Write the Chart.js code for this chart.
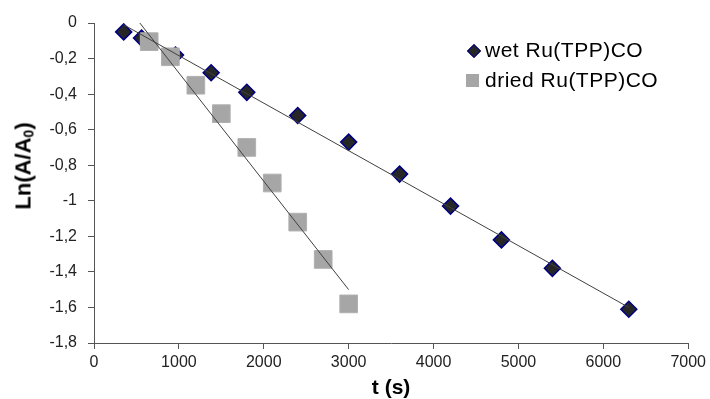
<!DOCTYPE html>
<html>
<head>
<meta charset="utf-8">
<script src="https://cdn.jsdelivr.net/npm/chart.js@4/dist/chart.umd.min.js"></script>
<style>
  html, body { margin: 0; padding: 0; background: #fff; }
  #wrap { position: relative; width: 710px; height: 399px; }
  #legend { position: absolute; left: 465px; top: 35px; font-family: "Liberation Sans", Arial, sans-serif; font-size: 21px; letter-spacing: 0.5px; color: #000; line-height: 30px; }
  .row { position: relative; padding-left: 20px; white-space: nowrap; }
  .dia { position: absolute; left: 3.5px; top: 10.5px; width: 8px; height: 8px; background: #262626; border: 1.2px solid #000080; transform: rotate(45deg); }
  .sq { position: absolute; left: 1px; top: 8.5px; width: 13px; height: 13px; background: #a6a6a6; }
  #ytitle { position: absolute; left: 24px; top: 166px; transform: translate(-50%, -50%) rotate(-90deg); font-family: "Liberation Sans", Arial, sans-serif; font-size: 22px; font-weight: bold; color: #000; white-space: nowrap; line-height: 1; }
  #ytitle sub { font-size: 14px; vertical-align: -3px; }
</style>
</head>
<body>
<div id="wrap">
  <canvas id="c" width="710" height="399"></canvas>
  <div id="ytitle">Ln(A/A<sub>0</sub>)</div>
  <div id="legend">
    <div class="row"><span class="dia"></span>wet Ru(TPP)CO</div>
    <div class="row"><span class="sq"></span>dried Ru(TPP)CO</div>
  </div>
</div>
<script>
// ---- data ----
const wetT  = [350, 560, 960, 1380, 1800, 2400, 3000, 3600, 4200, 4800, 5400, 6300];
const wetLn = [-0.05, -0.085, -0.18, -0.28, -0.39, -0.52, -0.67, -0.85, -1.03, -1.22, -1.38, -1.61];
const driedT  = [650, 900, 1200, 1500, 1800, 2100, 2400, 2700, 3000];
const driedLn = [-0.105, -0.19, -0.35, -0.51, -0.70, -0.90, -1.12, -1.33, -1.58];
const wetFitT  = [350, 6300];
const wetFitLn = [-0.01, -1.60];
const driedFitT  = [540, 3000];
const driedFitLn = [0, -1.50];
const xTicks = [0, 1000, 2000, 3000, 4000, 5000, 6000, 7000];
const yTicks = [0, -0.2, -0.4, -0.6, -0.8, -1, -1.2, -1.4, -1.6, -1.8];
const seriesNames = ['wet Ru(TPP)CO', 'dried Ru(TPP)CO'];

const pts = (xs, ys) => xs.map((x, i) => ({x: x, y: ys[i]}));
const axisColor = '#555';
const tickFont = {family: '"Liberation Sans", Arial, sans-serif', size: 16};

new Chart(document.getElementById('c'), {
  type: 'scatter',
  data: {
    datasets: [
      { label: 'wet fit', data: pts(wetFitT, wetFitLn), showLine: true, borderColor: '#404040', borderWidth: 1, pointRadius: 0, order: 0 },
      { label: 'dried fit', data: pts(driedFitT, driedFitLn), showLine: true, borderColor: '#404040', borderWidth: 1, pointRadius: 0, order: 0 },
      { label: seriesNames[1], data: pts(driedT, driedLn), pointStyle: 'rect', pointRadius: 12.5, backgroundColor: '#a6a6a6', borderColor: '#b0b0b0', borderWidth: 1, order: 1 },
      { label: seriesNames[0], data: pts(wetT, wetLn), pointStyle: 'rectRot', pointRadius: 8, backgroundColor: '#262626', borderColor: '#000080', borderWidth: 1.5, order: 2 }
    ]
  },
  options: {
    responsive: false,
    animation: false,
    events: [],
    layout: { padding: { top: 23, right: 20, left: 0, bottom: 0 } },
    plugins: { legend: { display: false }, tooltip: { enabled: false } },
    scales: {
      x: {
        type: 'linear', min: 0, max: 7000,
        afterBuildTicks: (a) => { a.ticks = xTicks.map(v => ({value: v})); },
        afterFit: (a) => { a.height = 56; },
        ticks: { color: '#222', font: tickFont, padding: 4, maxRotation: 0, callback: (v) => String(v) },
        grid: { display: true, drawOnChartArea: false, drawTicks: true, tickLength: 6, color: axisColor },
        border: { display: true, color: axisColor, width: 1 },
        title: { display: true, text: 't (s)', color: '#000', font: { family: '"Liberation Sans", Arial, sans-serif', size: 21, weight: 'bold', lineHeight: 1 }, padding: { top: 0, bottom: 0 } }
      },
      y: {
        type: 'linear', min: -1.8, max: 0,
        afterBuildTicks: (a) => { a.ticks = yTicks.map(v => ({value: v})); },
        afterFit: (a) => { a.width = 94; },
        ticks: { color: '#222', font: tickFont, padding: 11, callback: (v) => String(Number(v.toFixed(1))).replace('.', ',') },
        grid: { display: true, drawOnChartArea: false, drawTicks: true, tickLength: 6, color: axisColor },
        border: { display: true, color: axisColor, width: 1 },
        title: { display: false }
      }
    }
  }
});
</script>
</body>
</html>
